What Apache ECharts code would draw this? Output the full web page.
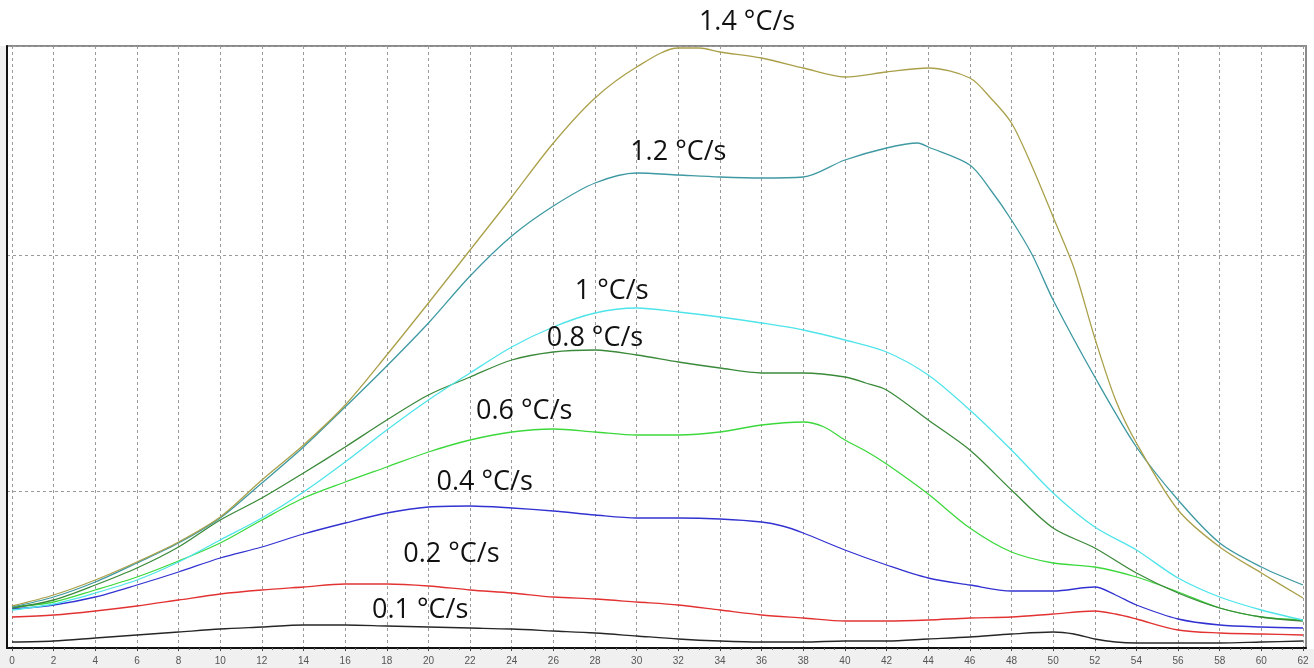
<!DOCTYPE html>
<html>
<head>
<meta charset="utf-8">
<title>cooling rates</title>
<style>
    html, body { margin: 0; padding: 0; background: #fff; }
    #cooling { width: 1314px; height: 668px; }
</style>
<script src="https://cdn.jsdelivr.net/npm/echarts@6/dist/echarts.min.js"></script>
</head>
<body>
<div id="cooling"></div>
<script>
// curves: [time, signal]; the signal has no scale on the original
const rate01 = [[0,0.06],[2,0.07],[4,0.10],[6,0.13],[8,0.16],[10,0.19],[12,0.21],[14,0.23],[16,0.23],[18,0.22],[20,0.21],[22,0.20],[24,0.19],[26,0.17],[28,0.15],[30,0.12],[32,0.09],[34,0.07],[36,0.06],[38,0.06],[40,0.07],[42,0.07],[44,0.09],[46,0.11],[48,0.14],[50,0.16],[51,0.14],[52,0.09],[53,0.06],[54,0.05],[56,0.05],[58,0.05],[60,0.06],[62,0.07]];
const rate02 = [[0,0.31],[2,0.33],[4,0.37],[6,0.42],[8,0.48],[10,0.54],[12,0.58],[14,0.61],[16,0.64],[18,0.64],[20,0.62],[22,0.58],[24,0.55],[26,0.51],[28,0.49],[30,0.46],[32,0.43],[34,0.38],[36,0.33],[38,0.30],[40,0.27],[42,0.27],[44,0.28],[46,0.30],[48,0.31],[50,0.34],[52,0.37],[53,0.34],[54,0.29],[56,0.18],[58,0.15],[60,0.14],[62,0.13]];
const rate04 = [[0,0.39],[2,0.43],[4,0.51],[6,0.63],[8,0.76],[10,0.90],[12,1.01],[14,1.14],[16,1.25],[18,1.35],[20,1.41],[22,1.42],[24,1.40],[26,1.37],[28,1.33],[30,1.30],[32,1.30],[34,1.29],[36,1.26],[37,1.22],[38,1.15],[40,0.98],[42,0.83],[44,0.70],[46,0.63],[48,0.57],[50,0.57],[52,0.61],[53,0.53],[54,0.43],[56,0.29],[58,0.23],[60,0.21],[62,0.20]];
const rate06 = [[0,0.41],[2,0.46],[4,0.58],[6,0.71],[8,0.87],[10,1.05],[12,1.28],[14,1.50],[16,1.66],[18,1.81],[20,1.96],[22,2.08],[24,2.16],[26,2.19],[28,2.16],[30,2.13],[32,2.13],[34,2.16],[36,2.23],[38,2.26],[39,2.21],[40,2.08],[41,1.97],[42,1.84],[44,1.54],[46,1.20],[48,0.96],[50,0.85],[52,0.81],[54,0.71],[56,0.56],[58,0.40],[60,0.31],[62,0.28]];
const rate08 = [[0,0.40],[2,0.48],[4,0.63],[6,0.80],[8,1.01],[10,1.28],[12,1.50],[14,1.75],[16,2.01],[18,2.28],[20,2.53],[22,2.71],[24,2.88],[26,2.96],[28,2.98],[30,2.93],[32,2.86],[34,2.80],[36,2.75],[38,2.75],[40,2.71],[41,2.65],[42,2.58],[44,2.28],[46,1.98],[48,1.58],[50,1.20],[52,1.00],[54,0.75],[56,0.55],[58,0.40],[60,0.31],[62,0.27]];
const rate10 = [[0,0.38],[2,0.44],[4,0.55],[6,0.68],[8,0.86],[10,1.08],[12,1.30],[14,1.56],[16,1.86],[18,2.18],[20,2.48],[22,2.75],[24,3.01],[26,3.21],[28,3.35],[30,3.40],[32,3.36],[34,3.31],[36,3.25],[38,3.18],[40,3.08],[42,2.96],[44,2.73],[46,2.38],[48,1.98],[50,1.55],[52,1.21],[54,0.98],[56,0.70],[58,0.51],[60,0.38],[62,0.28]];
const rate12 = [[0,0.41],[2,0.51],[4,0.66],[6,0.85],[8,1.05],[10,1.30],[12,1.65],[14,2.01],[16,2.41],[18,2.82],[20,3.25],[22,3.72],[24,4.12],[26,4.42],[28,4.65],[30,4.75],[32,4.73],[34,4.71],[36,4.70],[38,4.71],[40,4.88],[42,5.00],[43.5,5.05],[44,5.01],[46,4.83],[47,4.58],[48,4.28],[49,3.93],[50,3.48],[52,2.71],[54,2.01],[56,1.48],[58,1.05],[60,0.81],[62,0.63]];
const rate14 = [[0,0.42],[2,0.53],[4,0.68],[6,0.86],[8,1.06],[10,1.31],[12,1.68],[14,2.03],[16,2.43],[18,2.93],[20,3.45],[22,3.98],[24,4.51],[26,5.05],[28,5.50],[30,5.81],[32,6.00],[33,6.00],[34,5.96],[36,5.90],[38,5.80],[40,5.71],[42,5.76],[44,5.80],[46,5.70],[47,5.50],[48,5.25],[49,4.81],[50,4.31],[51,3.80],[52,3.10],[53,2.48],[54,2.05],[56,1.38],[58,1.01],[60,0.75],[62,0.50]];

const rateNames = ['0.1 °C/s', '0.2 °C/s', '0.4 °C/s', '0.6 °C/s', '0.8 °C/s', '1 °C/s', '1.2 °C/s', '1.4 °C/s'];
const rateColors = ['#262626', '#e23232', '#3232d2', '#3cd83c', '#3a8a3a', '#4ee4ea', '#3e99a2', '#aaa04a'];
// where each curve's name sits, in the same data units as the curves
const labelAt = [[19.6,0.38],[21.1,0.94],[22.7,1.66],[24.6,2.37],[28.0,3.10],[28.8,3.57],[32.0,4.96],[35.3,6.26]];

const timeMin = 0, timeMax = 62, timeStep = 2;
const signalMax = 6.02;
// the original's two dashed levels fall on 1 and 2 of this unlabelled scale
const levelMin = 0.335, levelMax = 2.886, levelStep = 1;

let cooling = echarts.init(document.getElementById('cooling'));

let allRates = [rate01, rate02, rate04, rate06, rate08, rate10, rate12, rate14];

option = {
    backgroundColor: '#fff',
    animation: false,
    grid: [
        // outer frame
        {left: 7, right: 8, top: 46, bottom: 20, show: true, backgroundColor: '#fff', borderColor: '#8a8a8a', borderWidth: 2},
        // plotting area, 0..62 on x
        {left: 12, right: 11, top: 46, bottom: 20}
    ],
    xAxis: [
        {
            gridIndex: 0, type: 'value', min: 0, max: 1,
            axisLine: {show: true, onZero: false, lineStyle: {color: '#111', width: 2}},
            axisTick: {show: false}, axisLabel: {show: false}, splitLine: {show: false}
        },
        {
            gridIndex: 1, type: 'value', min: timeMin, max: timeMax, interval: timeStep,
            axisLine: {show: false, onZero: false},
            axisTick: {show: true, length: 3, lineStyle: {color: '#444'}},
            minorTick: {show: true, splitNumber: 4, length: 2, lineStyle: {color: '#666'}},
            axisLabel: {color: '#555', fontSize: 10, fontFamily: 'Liberation Sans', margin: 8},
            splitLine: {show: true, lineStyle: {color: '#9a9a9a', type: [3, 3], width: 1}}
        }
    ],
    yAxis: [
        {
            gridIndex: 0, type: 'value', min: levelMin, max: levelMax,
            minInterval: levelStep, maxInterval: levelStep,
            axisLine: {show: true, onZero: false, lineStyle: {color: '#111', width: 2}},
            axisTick: {show: false}, axisLabel: {show: false},
            splitLine: {show: true, lineStyle: {color: '#9a9a9a', type: [3, 3], width: 1}}
        },
        {
            gridIndex: 1, type: 'value', min: 0, max: signalMax, show: false,
            splitLine: {show: false}
        }
    ],
    graphic: [
        {type: 'rect', shape: {x: 0, y: 649, width: 1314, height: 19}, style: {fill: '#f0f0f0'}, z: -1},
        {type: 'rect', shape: {x: 0, y: 46, width: 6, height: 603}, style: {fill: '#f0f0f0'}, z: -1}
    ],
    series: allRates.map(function (rate, i) {
        return {
            name: rateNames[i],
            type: 'line',
            xAxisIndex: 1,
            yAxisIndex: 1,
            data: rate,
            showSymbol: false,
            smooth: 0.3,
            color: rateColors[i],
            lineStyle: {width: 1.3}
        };
    })
};

cooling.setOption(option);

// curve names, placed from data coords
let names = labelAt.map(function (p, i) {
    let px = cooling.convertToPixel({gridIndex: 1}, p);
    return {
        type: 'text',
        x: px[0], y: px[1], z: 10,
        style: {
            text: rateNames[i],
            font: '27px "Open Sans"',
            fill: '#111',
            align: 'center',
            verticalAlign: 'middle'
        }
    };
});
cooling.setOption({graphic: option.graphic.concat(names)});
</script>
</body>
</html>
